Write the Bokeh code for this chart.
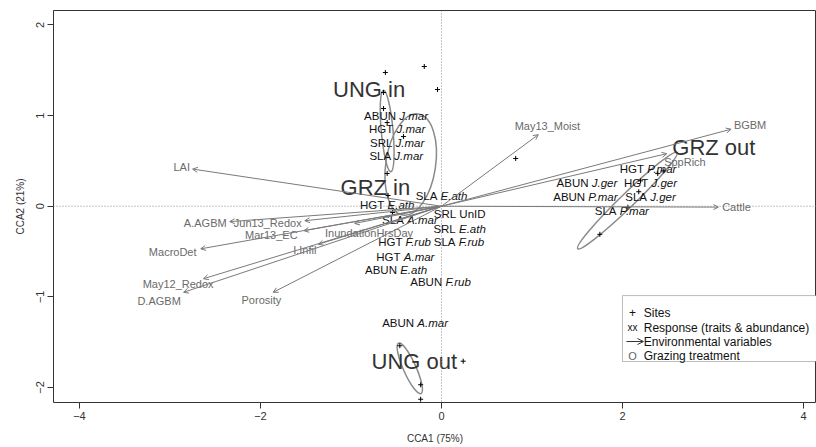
import numpy as np
from bokeh.plotting import figure
from bokeh.models import (Range1d, Span, Arrow, OpenHead, ColumnDataSource, Label,
                          BoxAnnotation, FixedTicker)
from bokeh.core.properties import value
from bokeh.embed import file_html
from bokeh.resources import INLINE

# ---------------- data ----------------
# Environmental variables (biplot arrows): arrow tips and label positions
env_names = ["BGBM", "May13_Moist", "SppRich", "Cattle", "LAI", "A.AGBM", "Jun13_Redox",
             "Mar13_EC", "MacroDet", "I.Infil", "May12_Redox", "D.AGBM", "Porosity",
             "InundationHrsDay"]
env_x = [3.20, 1.07, 2.49, 3.06, -2.75, -2.34, -1.51, -1.52, -2.66, -1.36, -2.63, -2.85, -1.86, -0.96]
env_y = [0.85, 0.79, 0.58, -0.01, 0.41, -0.17, -0.16, -0.27, -0.47, -0.42, -0.80, -0.95, -0.95, -0.19]
env_lab_x = [3.41, 1.17, 2.69, 3.26, -2.87, -2.61, -1.92, -1.88, -2.97, -1.51, -2.91, -3.12, -1.99, -0.80]
env_lab_y = [0.90, 0.88, 0.49, -0.01, 0.43, -0.18, -0.18, -0.32, -0.51, -0.48, -0.86, -1.05, -1.03, -0.29]

# Response (traits & abundance) labels: label centres
resp_prefix = ["ABUN", "HGT", "SRL", "SLA", "SLA", "HGT", "SLA", "SRL", "SRL", "HGT", "SLA",
               "HGT", "ABUN", "ABUN", "ABUN", "HGT", "ABUN", "HGT", "ABUN", "SLA", "SLA"]
resp_species = ["J.mar", "J.mar", "J.mar", "J.mar", "E.ath", "E.ath", "A.mar", "UnID", "E.ath",
                "F.rub", "F.rub", "A.mar", "E.ath", "F.rub", "A.mar", "P.mar", "J.ger", "J.ger",
                "P.mar", "J.ger", "P.mar"]
resp_x = [-0.50, -0.49, -0.49, -0.50, 0.00, -0.60, -0.35, 0.20, 0.20, -0.40, 0.20,
          -0.40, -0.50, 0.00, -0.29, 2.29, 1.61, 2.31, 1.60, 2.31, 2.00]
resp_y = [1.00, 0.85, 0.70, 0.55, 0.11, 0.01, -0.15, -0.09, -0.25, -0.40, -0.40,
          -0.56, -0.70, -0.84, -1.29, 0.41, 0.26, 0.26, 0.10, 0.10, -0.05]

# Sites
site_x = [-0.62, -0.19, -0.044, -0.64, -0.64, -0.60, -0.42, -0.60, -0.59, -0.54,
          0.82, 1.75, 2.20, 2.39, 2.18, 2.06, 2.45,
          0.24, -0.23, -0.46, -0.23]
site_y = [1.476, 1.542, 1.288, 1.255, 1.078, 0.923, 0.769, 0.361, 0.118, -0.07,
          0.527, -0.31, 0.28, 0.36, 0.16, -0.01, 0.39,
          -1.71, -1.97, -1.54, -2.13]

# Grazing treatment groups: label positions and dispersion ellipses
group_names = ["UNG in", "GRZ in", "GRZ out", "UNG out"]
group_x = [-0.80, -0.73, 3.01, -0.30]
group_y = [1.29, 0.21, 0.65, -1.71]
ell_x = [-0.60, -0.34, 2.055, -0.35]
ell_y = [0.83, 0.46, 0.063, -1.79]
ell_w = [0.13, 0.55, 1.53, 0.14]
ell_h = [0.905, 1.13, 0.155, 0.61]
ell_angle = [0.09, -0.15, 0.77, 0.42]

x_ticks = [-4, -2, 0, 2, 4]
y_ticks = [-2, -1, 0, 1, 2]
x_title = "CCA1 (75%)"
y_title = "CCA2 (21%)"
legend_items = ["Sites", "Response (traits & abundance)", "Environmental variables", "Grazing treatment"]

# ---------------- style ----------------
FONT = "Liberation Sans"
GRAY = "#7a7a7a"
LABGRAY = "#6a6a6a"
DARK = "#333333"

X0, X1 = -4.287, 4.144
Y0, Y1 = -2.166, 2.16
FRAME_W = 763.0
PPU = FRAME_W / (X1 - X0)  # pixels per data unit

p = figure(width=816, height=447, x_range=Range1d(X0, X1), y_range=Range1d(Y0, Y1),
           min_border_left=53, min_border_right=0, min_border_top=10, min_border_bottom=45,
           output_backend="svg", toolbar_location=None)
p.grid.visible = False
p.outline_line_color = DARK
p.outline_line_width = 1
p.background_fill_color = "white"
p.border_fill_color = "white"

for ax, ticks in ((p.xaxis[0], x_ticks), (p.yaxis[0], y_ticks)):
    ax.ticker = FixedTicker(ticks=ticks)
    ax.major_label_overrides = {t: (("\u2212" + str(abs(t))) if t < 0 else str(t)) for t in ticks}
    ax.axis_line_color = None
    ax.major_tick_in = 0
    ax.major_tick_out = 6
    ax.major_tick_line_color = DARK
    ax.minor_tick_line_color = None
    ax.major_label_text_font = FONT
    ax.major_label_text_font_size = "11px"
    ax.major_label_text_color = DARK
    ax.axis_label_text_font = FONT
    ax.axis_label_text_font_size = "10px"
    ax.axis_label_text_font_style = "normal"
    ax.axis_label_text_color = DARK
p.xaxis.axis_label = x_title
p.yaxis.axis_label = y_title
p.xaxis.major_label_standoff = 3
p.xaxis.axis_label_standoff = 10
p.yaxis.major_label_standoff = 3
p.yaxis.axis_label_standoff = 8
p.yaxis.major_label_orientation = "vertical"

# dotted zero lines
p.add_layout(Span(location=0, dimension="width", line_color="#888888", line_dash="1 2", line_width=1))
p.add_layout(Span(location=0, dimension="height", line_color="#888888", line_dash="1 2", line_width=1))

# ellipses
p.ellipse(x=ell_x, y=ell_y, width=ell_w, height=ell_h, angle=ell_angle,
          fill_color=None, line_color="#8a8a8a", line_width=1.5)

# environmental arrows
n = len(env_names)
arr_src = ColumnDataSource(dict(x0=[0.0] * n, y0=[0.0] * n, x1=env_x, y1=env_y))
p.add_layout(Arrow(end=OpenHead(size=5, line_color=GRAY, line_width=1),
                   x_start="x0", y_start="y0", x_end="x1", y_end="y1",
                   source=arr_src, line_color=GRAY, line_width=1))
p.text(x=env_lab_x, y=env_lab_y, text=env_names, text_font=value(FONT), text_font_size="11px",
       text_color=LABGRAY, text_align="center", text_baseline="middle")

# sites
p.scatter(x=site_x, y=site_y, marker="cross", size=5, line_color="black", line_width=1)

# response labels: upright prefix + (italic) species name
PRE_W = {"ABUN": 30.4, "HGT": 23.2, "SRL": 21.3, "SLA": 20.7}
SP_W = {"J.mar": 27.6, "E.ath": 25.7, "A.mar": 29.4, "F.rub": 25.7, "P.mar": 29.4,
        "J.ger": 24.5, "UnID": 25.0}
anchor = [x + (PRE_W[a] - SP_W[b]) / 2.0 / PPU for x, a, b in zip(resp_x, resp_prefix, resp_species)]
p.text(x=anchor, y=resp_y, text=resp_prefix, text_font=value(FONT), text_font_size="11.5px",
       text_color="#111111", text_align="right", text_baseline="middle", x_offset=-1.6)
ital = [i for i, s in enumerate(resp_species) if s != "UnID"]
upr = [i for i, s in enumerate(resp_species) if s == "UnID"]
p.text(x=[anchor[i] for i in ital], y=[resp_y[i] for i in ital], text=[resp_species[i] for i in ital],
       text_font=value(FONT), text_font_size="11.5px", text_font_style="italic",
       text_color="#111111", text_align="left", text_baseline="middle", x_offset=1.6)
p.text(x=[anchor[i] for i in upr], y=[resp_y[i] for i in upr], text=[resp_species[i] for i in upr],
       text_font=value(FONT), text_font_size="11.5px",
       text_color="#111111", text_align="left", text_baseline="middle", x_offset=1.6)

# group labels
p.text(x=group_x, y=group_y, text=group_names, text_font=value(FONT), text_font_size="22px",
       text_color=DARK, text_align="center", text_baseline="middle")

# legend (drawn manually)
lx0, lx1, ly0, ly1 = 2.0, 4.2, -1.714, -0.986
p.add_layout(BoxAnnotation(left=lx0, right=lx1, bottom=ly0, top=ly1, fill_color="white",
                           fill_alpha=1.0, line_color="#222222", line_width=1))
row_y = [-1.173, -1.339, -1.493, -1.648]
sym_x = 2.11
txt_x = 2.235
for t, yy in zip(legend_items, row_y):
    p.add_layout(Label(x=txt_x, y=yy, text=t, text_font=FONT, text_font_size="12px",
                       text_color="#111111", text_align="left", text_baseline="middle"))
p.add_layout(Label(x=sym_x, y=row_y[0], text="+", text_font=FONT, text_font_size="12px",
                   text_color="#111111", text_align="center", text_baseline="middle"))
p.add_layout(Label(x=sym_x, y=row_y[1], text="xx", text_font=FONT, text_font_size="10px",
                   text_color="#111111", text_align="center", text_baseline="middle"))
p.add_layout(Arrow(end=OpenHead(size=6, line_color="#333333", line_width=1),
                   x_start=2.044, y_start=row_y[2], x_end=2.232, y_end=row_y[2],
                   line_color="#333333", line_width=1))
p.add_layout(Label(x=sym_x, y=row_y[3], text="O", text_font=FONT, text_font_size="11px",
                   text_color="#666666", text_align="center", text_baseline="middle"))

open("out.html", "w").write(file_html(p, INLINE))
